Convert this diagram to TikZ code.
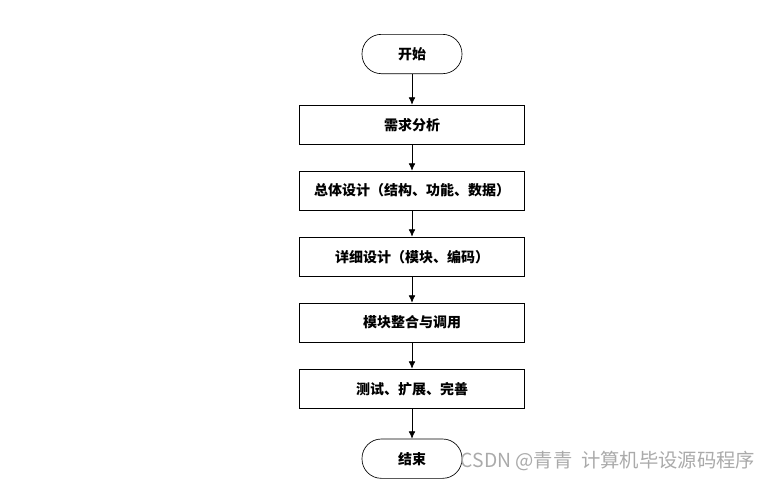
\documentclass[tikz,border=0pt]{standalone}
\usepackage{fontspec}
\setmainfont{Liberation Sans}
\newfontfamily\cjk{Noto Sans CJK SC}
\usetikzlibrary{arrows.meta,positioning}
\definecolor{cmark}{HTML}{AAAAAA}

\begin{document}
\begin{tikzpicture}[
  x=0.75pt,y=-0.75pt,
  font=\cjk\bfseries\fontsize{10.5}{12}\selectfont,
  box/.style={draw,line width=0.5pt,minimum width=168.75pt,minimum height=29.5pt,inner sep=0pt},
  term/.style={draw,line width=0.5pt,rounded corners=14.5pt,minimum width=75pt,minimum height=29.5pt,inner sep=0pt},
  arr/.style={-{Latex[length=5.5pt,width=5pt]},line width=0.5pt},
  node distance=19.5pt]
  \useasboundingbox (0,0) rectangle (776,480);
  \node[term] (start) at (412,54) {开始};
  \node[box,below=23pt of start] (req) {需求分析};
  \node[box,below=of req] (overall) {总体设计（结构、功能、数据）};
  \node[box,below=of overall] (detail) {详细设计（模块、编码）};
  \node[box,below=of detail] (merge) {模块整合与调用};
  \node[box,below=of merge] (test) {测试、扩展、完善};
  \node[term,below=22.5pt of test] (stop) {结束};
  \draw[arr] (start)--(req);
  \draw[arr] (req)--(overall);
  \draw[arr] (overall)--(detail);
  \draw[arr] (detail)--(merge);
  \draw[arr] (merge)--(test);
  \draw[arr] (test)--(stop);
  % watermark
  \node[font=\cjk\fontsize{14.5}{16}\selectfont,text=cmark] (mark) at (608,461) {CSDN @青青\ \ 计算机毕设源码程序};
\end{tikzpicture}
\end{document}
